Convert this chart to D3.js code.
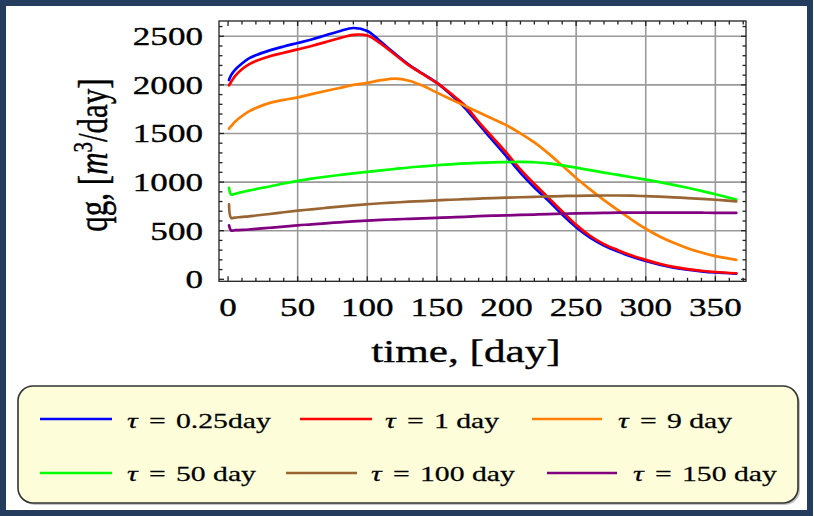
<!DOCTYPE html>
<html><head><meta charset="utf-8">
<script src="https://cdn.jsdelivr.net/npm/d3@7/dist/d3.min.js"></script>
<style>body{margin:0;background:#fff}svg{display:block}</style>
</head><body>
<svg id="c" width="814" height="516"></svg>
<script>
// ---------------- data ----------------
const tDays = [0.7, 2.2, 5, 10, 15, 20, 30, 40, 50, 60, 70, 80, 90, 100, 110, 120, 130, 140, 150, 160, 170, 180, 190, 200, 210, 220, 230, 240, 250, 260, 270, 280, 290, 300, 310, 320, 330, 340, 350, 365];
const qTau025 = [2050, 2100, 2155, 2220, 2272, 2305, 2355, 2395, 2431, 2467, 2510, 2552, 2585, 2555, 2440, 2320, 2205, 2112, 2020, 1900, 1765, 1595, 1430, 1265, 1095, 945, 810, 665, 535, 428, 347, 285, 232, 188, 150, 120, 98, 82, 70, 58];
const qTau1   = [1995, 2030, 2090, 2160, 2210, 2245, 2295, 2330, 2365, 2400, 2440, 2480, 2515, 2508, 2422, 2310, 2200, 2110, 2020, 1910, 1790, 1620, 1460, 1300, 1130, 980, 840, 697, 560, 448, 362, 300, 245, 200, 160, 128, 105, 88, 75, 62];
const qTau9   = [1550, 1575, 1620, 1680, 1728, 1762, 1815, 1845, 1872, 1905, 1937, 1968, 2000, 2020, 2048, 2064, 2042, 1990, 1920, 1852, 1785, 1718, 1652, 1584, 1502, 1408, 1295, 1170, 1042, 925, 815, 712, 612, 520, 440, 375, 320, 275, 238, 200];
const qTau50  = [940, 872, 880, 897, 912, 928, 955, 985, 1012, 1035, 1055, 1073, 1090, 1105, 1120, 1135, 1150, 1162, 1173, 1183, 1192, 1198, 1203, 1206, 1207, 1204, 1192, 1172, 1148, 1123, 1098, 1074, 1050, 1025, 1000, 972, 942, 910, 875, 820];
const qTau100 = [770, 632, 635, 642, 648, 656, 672, 690, 706, 720, 734, 748, 761, 772, 782, 790, 798, 805, 812, 818, 824, 830, 836, 840, 844, 848, 852, 856, 859, 861, 862, 862, 860, 855, 850, 843, 836, 828, 818, 802];
const qTau150 = [555, 502, 505, 508, 512, 518, 530, 542, 555, 565, 576, 586, 596, 604, 611, 617, 622, 627, 632, 637, 643, 649, 654, 658, 662, 666, 670, 674, 678, 681, 683, 685, 686, 686, 686, 686, 685, 685, 684, 683];
const legendValues = ["0.25day", "1 day", "9 day", "50 day", "100 day", "150 day"];
const xTickValues = [0, 50, 100, 150, 200, 250, 300, 350];
const yTickValues = [0, 500, 1000, 1500, 2000, 2500];

// ---------------- styling ----------------
const seriesColors = ["#0000ff", "#ff0000", "#ff8000", "#00ff00", "#996633", "#800080"];
const allSeries = [qTau025, qTau1, qTau9, qTau50, qTau100, qTau150];
const SX = 1.35;
const FONT = "'Liberation Serif','Times New Roman',serif";

const svg = d3.select("#c");
svg.append("rect").attr("x",0).attr("y",0).attr("width",814).attr("height",516).attr("fill","#fff");
// outer frame
svg.append("rect").attr("x",3).attr("y",3).attr("width",807).attr("height",510)
  .attr("fill","none").attr("stroke","#243d5e").attr("stroke-width",6);

const L = 219, R = 746, T = 21, B = 281.3;
const x = d3.scaleLinear().domain([-6.5, 372]).range([L, R]);
const y = d3.scaleLinear().domain([-20.6, 2657]).range([B, T]);

function stext(g, px, py, str, size, anchor) {
  return g.append("text").attr("transform", `translate(${px},${py}) scale(${SX},1)`)
    .attr("text-anchor", anchor || "start").attr("font-family", FONT)
    .attr("font-size", size).attr("fill", "#000")
    .attr("stroke", "#000").attr("stroke-width", 0.35).text(str);
}

// grid
const grid = svg.append("g").attr("stroke","#9a9a9a").attr("stroke-width",1.6);
xTickValues.slice(1).forEach(v => grid.append("line").attr("x1",x(v)).attr("x2",x(v)).attr("y1",T).attr("y2",B));
yTickValues.slice(1).forEach(v => grid.append("line").attr("y1",y(v)).attr("y2",y(v)).attr("x1",L).attr("x2",R));

// curves
svg.append("clipPath").attr("id","pc").append("rect").attr("x",L).attr("y",T).attr("width",R-L).attr("height",B-T);
const line = d3.line().x(d => x(d[0])).y(d => y(d[1])).curve(d3.curveCatmullRom.alpha(0.5));
const curves = svg.append("g").attr("clip-path","url(#pc)");
allSeries.forEach((s, i) => {
  curves.append("path").datum(tDays.map((t, k) => [t, s[k]]))
    .attr("d", line).attr("fill","none").attr("stroke", seriesColors[i])
    .attr("stroke-width", 2.7).attr("stroke-linejoin","round").attr("stroke-linecap","round");
});

// frame and ticks
const fr = svg.append("g").attr("stroke","#222").attr("stroke-width",1.3);
fr.append("rect").attr("x",L).attr("y",T).attr("width",R-L).attr("height",B-T).attr("fill","none");
d3.range(0, 371, 10).forEach(v => {
  const len = v % 50 === 0 ? 5 : 3.5;
  fr.append("line").attr("x1",x(v)).attr("x2",x(v)).attr("y1",B).attr("y2",B-len);
  fr.append("line").attr("x1",x(v)).attr("x2",x(v)).attr("y1",T).attr("y2",T+len);
});
d3.range(0, 2650, 100).forEach(v => {
  const len = v % 500 === 0 ? 5 : 3.5;
  fr.append("line").attr("y1",y(v)).attr("y2",y(v)).attr("x1",L).attr("x2",L+len);
  fr.append("line").attr("y1",y(v)).attr("y2",y(v)).attr("x1",R).attr("x2",R-len);
});

// tick labels
const lab = svg.append("g");
xTickValues.forEach(v => stext(lab, x(v), 316, String(v), 26, "middle"));
yTickValues.forEach(v => stext(lab, 203, y(v) + 9, String(v), 26, "end"));

// axis titles
stext(lab, 466, 362, "time, [day]", 32, "middle");
const yt = lab.append("text").attr("transform", `translate(107,155) scale(${SX},1) rotate(-90)`)
  .attr("text-anchor","middle").attr("font-family",FONT).attr("font-size",31).attr("fill","#000")
  .attr("stroke","#000").attr("stroke-width",0.35);
yt.append("tspan").text("qg, [");
yt.append("tspan").attr("font-style","italic").text("m");
yt.append("tspan").attr("dy",-11).attr("font-size",21).text("3");
yt.append("tspan").attr("dy",11).text("/day]");

// legend
const lg = svg.append("g");
lg.append("rect").attr("x",20).attr("y",388).attr("width",780).attr("height",117).attr("rx",15)
  .attr("fill","#9a9a9a").attr("opacity",0.6);
lg.append("rect").attr("x",18).attr("y",386).attr("width",780).attr("height",117).attr("rx",15)
  .attr("fill","#fdfdda").attr("stroke","#333").attr("stroke-width",1.6);
const legPos = [
  {x1:40, x2:112, tx:127, ly:419, ty:427.5},
  {x1:300, x2:372, tx:385, ly:419, ty:427.5},
  {x1:532, x2:602, tx:618, ly:419, ty:427.5},
  {x1:40, x2:112, tx:127, ly:473, ty:481},
  {x1:286, x2:357, tx:371, ly:473, ty:481},
  {x1:547, x2:617, tx:633, ly:473, ty:481}
];
legendValues.forEach((lbl, i) => {
  const p = legPos[i];
  lg.append("line").attr("x1",p.x1).attr("x2",p.x2).attr("y1",p.ly).attr("y2",p.ly)
    .attr("stroke",seriesColors[i]).attr("stroke-width",2.7);
  const t = lg.append("text").attr("transform",`translate(${p.tx},${p.ty}) scale(${SX},1)`)
    .attr("font-family",FONT).attr("font-size",22).attr("fill","#000")
    .attr("stroke","#000").attr("stroke-width",0.25).attr("xml:space","preserve");
  t.append("tspan").attr("font-style","italic").text("τ");
  t.append("tspan").attr("dx",3).text(" = ");
  t.append("tspan").attr("dx",2).text(lbl);
});
</script>
</body></html>
